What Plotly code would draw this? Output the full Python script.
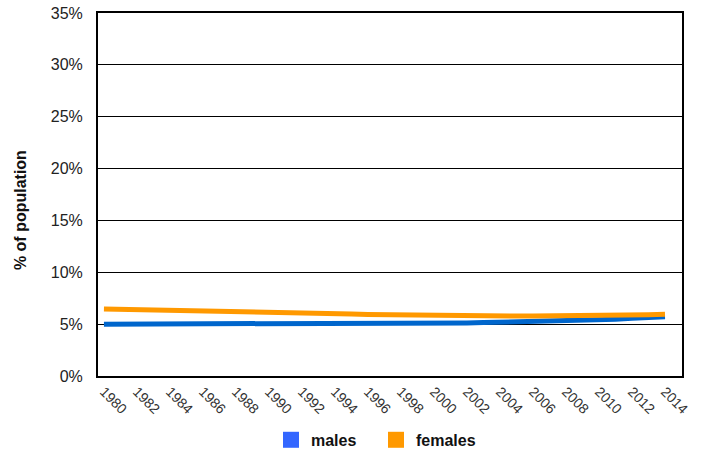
import plotly.graph_objects as go

years = list(range(1980, 2015))
males = [5.0, 5.0, 5.0, 5.0, 5.0, 5.0, 5.02, 5.03, 5.04, 5.05, 5.06, 5.07, 5.07, 5.08,
         5.08, 5.08, 5.08, 5.08, 5.08, 5.08, 5.08, 5.1, 5.12, 5.15, 5.18, 5.2, 5.24,
         5.28, 5.32, 5.36, 5.4, 5.48, 5.56, 5.64, 5.72]
females = [6.46, 6.42, 6.38, 6.34, 6.3, 6.27, 6.24, 6.21, 6.18, 6.15, 6.12, 6.09, 6.06,
           6.03, 6.0, 5.97, 5.94, 5.91, 5.88, 5.86, 5.84, 5.82, 5.8, 5.79, 5.78, 5.78,
           5.78, 5.78, 5.79, 5.8, 5.81, 5.83, 5.86, 5.9, 5.95]
tick_years = list(range(1980, 2015, 2))
y_ticks = [0, 5, 10, 15, 20, 25, 30, 35]
y_labels = [f"{v}%" for v in y_ticks]
y_title = "% of population"

font = "Liberation Sans, Arial, sans-serif"
fig = go.Figure()
fig.add_trace(go.Scatter(x=years, y=males, mode="lines", line=dict(color="#0066cc", width=5),
                         showlegend=False))
fig.add_trace(go.Scatter(x=years, y=females, mode="lines", line=dict(color="#ff9900", width=5),
                         showlegend=False))
fig.add_trace(go.Scatter(x=[None], y=[None], mode="markers", name="<b>males</b>",
                         marker=dict(symbol="square", size=16, color="#3366ff")))
fig.add_trace(go.Scatter(x=[None], y=[None], mode="markers", name="<b>females</b>",
                         marker=dict(symbol="square", size=16, color="#ff9900")))
fig.update_layout(
    width=703, height=450,
    margin=dict(l=98, r=21, t=13, b=74, autoexpand=False),
    plot_bgcolor="white", paper_bgcolor="white",
    font=dict(family=font, color="#222"),
    xaxis=dict(range=[1979.64, 2015.03], tickvals=tick_years, ticktext=[str(t) for t in tick_years],
               tickangle=45, tickfont=dict(size=14, color="#333"), showgrid=False, zeroline=False,
               showline=True, linecolor="black", linewidth=2, mirror=True, automargin=False),
    yaxis=dict(range=[0, 35], tickvals=y_ticks, ticktext=y_labels, tickfont=dict(size=16),
               ticklabelstandoff=10, ticklabeloverflow="allow",
               showgrid=True, gridcolor="#000", gridwidth=1, zeroline=False,
               showline=True, linecolor="black", linewidth=2, mirror=True, automargin=False),
    legend=dict(orientation="h", x=0.476, xanchor="center", y=-0.176, yanchor="middle",
                font=dict(size=16, color="#111"), entrywidth=60),
    annotations=[dict(text="<b>" + y_title + "</b>", textangle=-90, xref="paper", yref="paper",
                      x=-0.1336, y=0.457, xanchor="center", yanchor="middle", showarrow=False,
                      font=dict(size=16, color="#111"))],
)
fig.write_html("out.html", post_script="document.body.style.margin='0';",
               config={"displayModeBar": False})
